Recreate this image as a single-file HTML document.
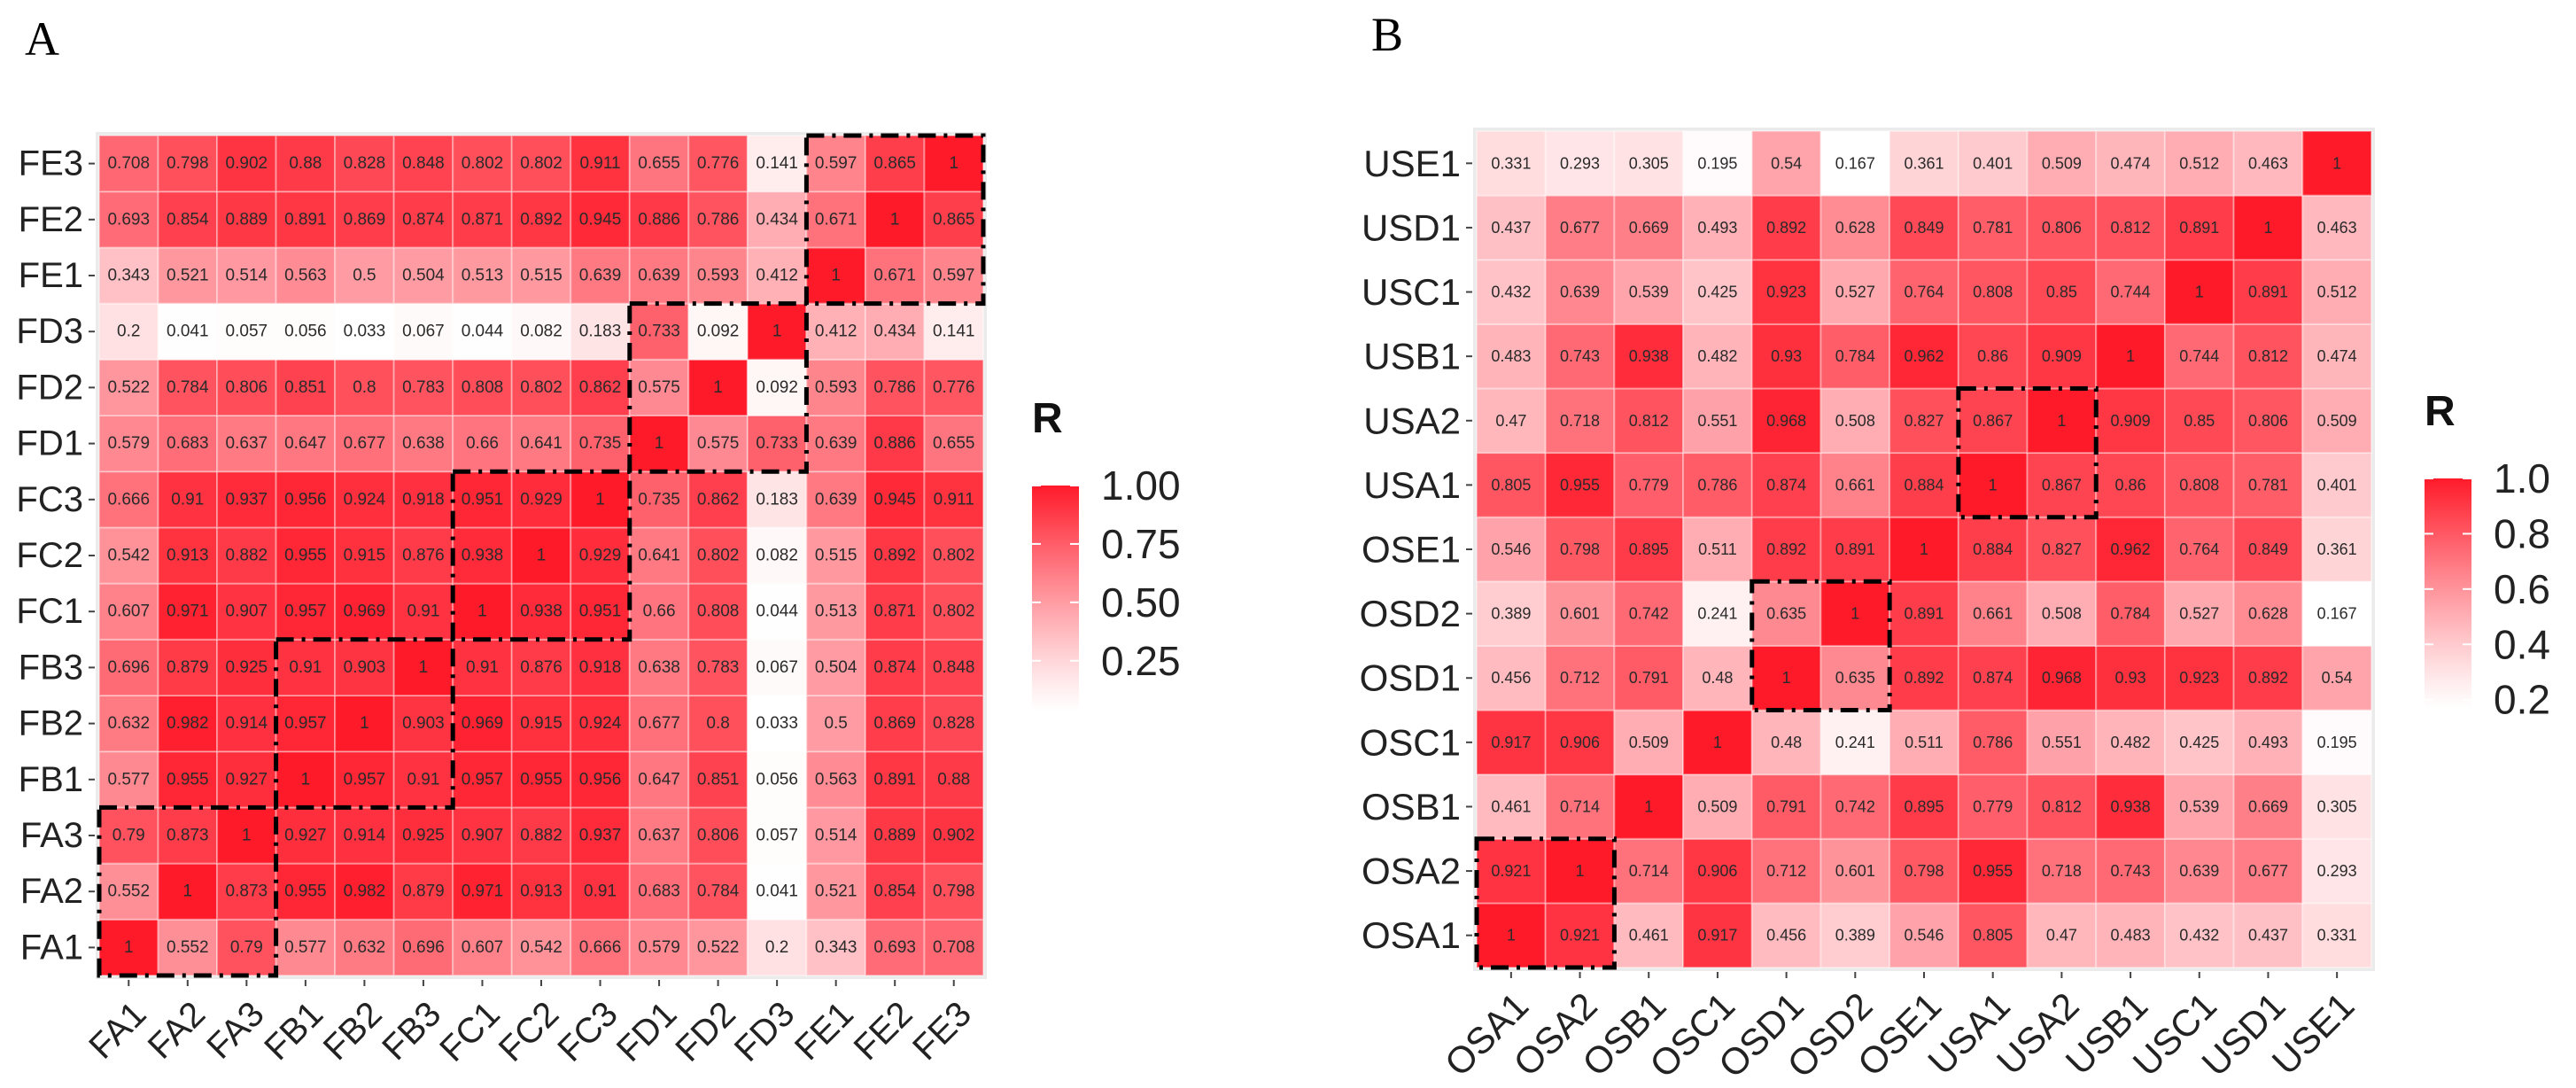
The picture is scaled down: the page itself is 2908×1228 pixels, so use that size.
<!DOCTYPE html>
<html><head><meta charset="utf-8"><style>
html,body{margin:0;padding:0;background:#fff;}
svg{display:block;}
text{font-family:"Liberation Sans",Arial,sans-serif;}
</style></head><body>
<svg id="fig" width="2908" height="1228" viewBox="0 0 2908 1228" xmlns="http://www.w3.org/2000/svg">
<rect width="2908" height="1228" fill="#fff"/>
<text x="28" y="62" font-size="54" style="font-family:'Liberation Serif',serif">A</text>
<text x="1548" y="57" font-size="54" style="font-family:'Liberation Serif',serif">B</text>
<g id="panelA"></g>
<g id="panelB"></g>
</svg>
<script>
const labelsA = ["FA1","FA2","FA3","FB1","FB2","FB3","FC1","FC2","FC3","FD1","FD2","FD3","FE1","FE2","FE3"];
// rows listed bottom (FA1) to top (FE3)
const valuesA = [
[1,0.552,0.79,0.577,0.632,0.696,0.607,0.542,0.666,0.579,0.522,0.2,0.343,0.693,0.708],
[0.552,1,0.873,0.955,0.982,0.879,0.971,0.913,0.91,0.683,0.784,0.041,0.521,0.854,0.798],
[0.79,0.873,1,0.927,0.914,0.925,0.907,0.882,0.937,0.637,0.806,0.057,0.514,0.889,0.902],
[0.577,0.955,0.927,1,0.957,0.91,0.957,0.955,0.956,0.647,0.851,0.056,0.563,0.891,0.88],
[0.632,0.982,0.914,0.957,1,0.903,0.969,0.915,0.924,0.677,0.8,0.033,0.5,0.869,0.828],
[0.696,0.879,0.925,0.91,0.903,1,0.91,0.876,0.918,0.638,0.783,0.067,0.504,0.874,0.848],
[0.607,0.971,0.907,0.957,0.969,0.91,1,0.938,0.951,0.66,0.808,0.044,0.513,0.871,0.802],
[0.542,0.913,0.882,0.955,0.915,0.876,0.938,1,0.929,0.641,0.802,0.082,0.515,0.892,0.802],
[0.666,0.91,0.937,0.956,0.924,0.918,0.951,0.929,1,0.735,0.862,0.183,0.639,0.945,0.911],
[0.579,0.683,0.637,0.647,0.677,0.638,0.66,0.641,0.735,1,0.575,0.733,0.639,0.886,0.655],
[0.522,0.784,0.806,0.851,0.8,0.783,0.808,0.802,0.862,0.575,1,0.092,0.593,0.786,0.776],
[0.2,0.041,0.057,0.056,0.033,0.067,0.044,0.082,0.183,0.733,0.092,1,0.412,0.434,0.141],
[0.343,0.521,0.514,0.563,0.5,0.504,0.513,0.515,0.639,0.639,0.593,0.412,1,0.671,0.597],
[0.693,0.854,0.889,0.891,0.869,0.874,0.871,0.892,0.945,0.886,0.786,0.434,0.671,1,0.865],
[0.708,0.798,0.902,0.88,0.828,0.848,0.802,0.802,0.911,0.655,0.776,0.141,0.597,0.865,1]
];
const groupsA = [[0,2],[3,5],[6,8],[9,11],[12,14]];
const legendTicksA = [0.25,0.5,0.75,1.0];
const legendLabelsA = ["0.25","0.50","0.75","1.00"];

const labelsB = ["OSA1","OSA2","OSB1","OSC1","OSD1","OSD2","OSE1","USA1","USA2","USB1","USC1","USD1","USE1"];
const valuesB = [
[1,0.921,0.461,0.917,0.456,0.389,0.546,0.805,0.47,0.483,0.432,0.437,0.331],
[0.921,1,0.714,0.906,0.712,0.601,0.798,0.955,0.718,0.743,0.639,0.677,0.293],
[0.461,0.714,1,0.509,0.791,0.742,0.895,0.779,0.812,0.938,0.539,0.669,0.305],
[0.917,0.906,0.509,1,0.48,0.241,0.511,0.786,0.551,0.482,0.425,0.493,0.195],
[0.456,0.712,0.791,0.48,1,0.635,0.892,0.874,0.968,0.93,0.923,0.892,0.54],
[0.389,0.601,0.742,0.241,0.635,1,0.891,0.661,0.508,0.784,0.527,0.628,0.167],
[0.546,0.798,0.895,0.511,0.892,0.891,1,0.884,0.827,0.962,0.764,0.849,0.361],
[0.805,0.955,0.779,0.786,0.874,0.661,0.884,1,0.867,0.86,0.808,0.781,0.401],
[0.47,0.718,0.812,0.551,0.968,0.508,0.827,0.867,1,0.909,0.85,0.806,0.509],
[0.483,0.743,0.938,0.482,0.93,0.784,0.962,0.86,0.909,1,0.744,0.812,0.474],
[0.432,0.639,0.539,0.425,0.923,0.527,0.764,0.808,0.85,0.744,1,0.891,0.512],
[0.437,0.677,0.669,0.493,0.892,0.628,0.849,0.781,0.806,0.812,0.891,1,0.463],
[0.331,0.293,0.305,0.195,0.54,0.167,0.361,0.401,0.509,0.474,0.512,0.463,1]
];
const groupsB = [[0,1],[4,5],[7,8]];
const legendTicksB = [0.2,0.4,0.6,0.8,1.0];
const legendLabelsB = ["0.2","0.4","0.6","0.8","1.0"];

const NS = "http://www.w3.org/2000/svg";
function mk(parent, tag, attrs, txt){
  const e = document.createElementNS(NS, tag);
  for (const k in attrs) e.setAttribute(k, attrs[k]);
  if (txt !== undefined) e.textContent = txt;
  parent.appendChild(e);
  return e;
}
const HI = [255,26,42];
function colorFor(v, lo){
  let t = (v - lo) / (1 - lo); t = Math.max(0, Math.min(1, t));
  const s = Math.pow(t, 1.15);
  const r = Math.round(255 + (HI[0]-255)*s);
  const g = Math.round(255 + (HI[1]-255)*s);
  const b = Math.round(255 + (HI[2]-255)*s);
  return `rgb(${r},${g},${b})`;
}

function drawPanel(g, labels, vals, groups, cfg){
  const n = labels.length;
  let lo = 1; vals.forEach(r => r.forEach(v => { if (v < lo) lo = v; }));
  const cw = cfg.w / n, ch = cfg.h / n;
  const xS = i => cfg.x + i * cw;
  const yS = j => cfg.y + cfg.h - (j + 1) * ch;
  mk(g, "rect", {x: cfg.x - 4, y: cfg.y - 4, width: cfg.w + 8, height: cfg.h + 8, fill: "#ebebeb"});
  for (let j = 0; j < n; j++){
    for (let i = 0; i < n; i++){
      const v = vals[j][i];
      const r = mk(g, "rect", {x: xS(i), y: yS(j), width: cw, height: ch, fill: colorFor(v, lo), stroke: "#ffffff", "stroke-opacity": "0.35", "stroke-width": "2"});
      
      
      const t = mk(g, "text", {x: xS(i) + cw/2, y: yS(j) + ch/2, "text-anchor": "middle", "dominant-baseline": "central", "font-size": cfg.cellFont, fill: "#2a2a2a"}, String(v));
      
      
    }
  }
  for (let k = 0; k < n; k++){
    const yc = yS(k) + ch/2;
    mk(g, "line", {x1: cfg.x - 12, x2: cfg.x - 5, y1: yc, y2: yc, stroke: "#444", "stroke-width": 2});
    const yl = mk(g, "text", {x: cfg.x - 18, y: yc, "text-anchor": "end", "dominant-baseline": "central", "font-size": cfg.axFont, fill: "#222"}, labels[k]);
    
    
    const xc = xS(k) + cw/2, yb = cfg.y + cfg.h;
    mk(g, "line", {x1: xc, x2: xc, y1: yb + 5, y2: yb + 12, stroke: "#444", "stroke-width": 2});
    const ax = xc + 22, ay = yb + 46;
    const xl = mk(g, "text", {x: ax, y: ay, "text-anchor": "end", "font-size": cfg.axFont, fill: "#222", transform: `rotate(-45 ${ax} ${ay})`}, labels[k]);
    
    
  }
  groups.forEach(gr => {
    const x0 = xS(gr[0]), x1 = xS(gr[1] + 1);
    const y0 = yS(gr[1]), y1 = yS(gr[0]) + ch;
    const b = mk(g, "rect", {x: x0, y: y0, width: x1 - x0, height: y1 - y0, fill: "none", stroke: "#000", "stroke-width": 5, "stroke-dasharray": "20 9 4 9"});
    
    
  });
  const L = cfg.leg;
  const rt = mk(g, "text", {x: L.x, y: L.titleY, "font-size": 48, "font-weight": "bold", fill: "#111"}, "R");
  
  
  const gid = "grad" + cfg.id;
  const defs = mk(g, "defs", {});
  const lg = mk(defs, "linearGradient", {id: gid, x1: 0, y1: 1, x2: 0, y2: 0});
  for (let s = 0; s <= 10; s++){
    const v = lo + (1 - lo) * s / 10;
    mk(lg, "stop", {offset: (s*10) + "%", "stop-color": colorFor(v, lo)});
  }
  const bar = mk(g, "rect", {x: L.x, y: L.y, width: 53, height: L.h, fill: `url(#${gid})`});
  
  
  const vy = v => L.y + L.h - (v - lo) / (1 - lo) * L.h;
  cfg.ticks.forEach((tv, i) => {
    const y = vy(tv);
    mk(g, "line", {x1: L.x, x2: L.x + 10, y1: y, y2: y, stroke: "#fff", "stroke-width": 2});
    mk(g, "line", {x1: L.x + 43, x2: L.x + 53, y1: y, y2: y, stroke: "#fff", "stroke-width": 2});
    const tl = mk(g, "text", {x: L.x + 78, y: y, "dominant-baseline": "central", "font-size": 46, fill: "#222"}, cfg.tickLabels[i]);
    
    
  });
}

drawPanel(document.getElementById("panelA"), labelsA, valuesA, groupsA, {
  id: "A", x: 112, y: 153, w: 998, h: 948, cellFont: 19, axFont: 40,
  leg: {x: 1165, y: 548, h: 255, titleY: 488},
  ticks: legendTicksA, tickLabels: legendLabelsA
});
drawPanel(document.getElementById("panelB"), labelsB, valuesB, groupsB, {
  id: "B", x: 1667, y: 148, w: 1010, h: 944, cellFont: 18, axFont: 42,
  leg: {x: 2737, y: 540, h: 260, titleY: 480},
  ticks: legendTicksB, tickLabels: legendLabelsB
});
</script>
</body></html>
